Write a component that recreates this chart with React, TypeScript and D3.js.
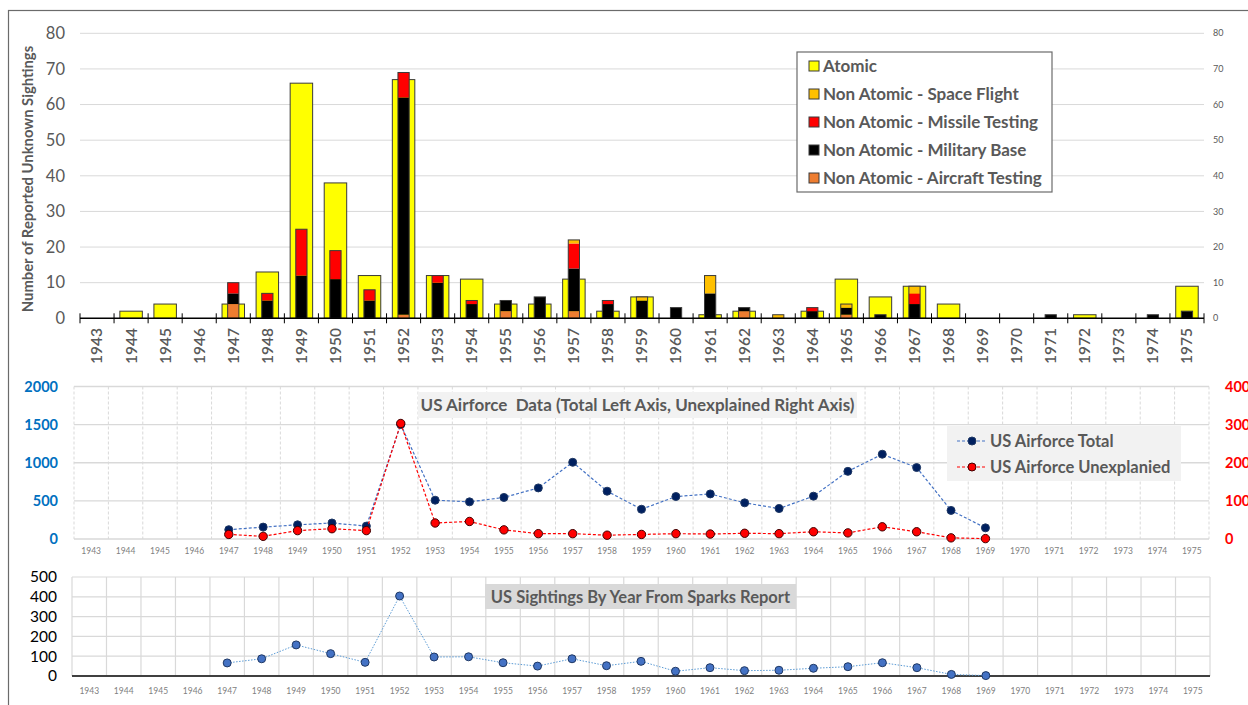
import { useEffect, useRef } from 'react';
import * as d3 from 'd3';

// categories
const years = [
  '1943', '1944', '1945', '1946', '1947', '1948', '1949', '1950', '1951', '1952', '1953',
  '1954', '1955', '1956', '1957', '1958', '1959', '1960', '1961', '1962', '1963', '1964',
  '1965', '1966', '1967', '1968', '1969', '1970', '1971', '1972', '1973', '1974', '1975',
];

// top chart: unknown sightings by type
const atomic = [0, 2, 4, 0, 4, 13, 66, 38, 12, 67, 12, 11, 4, 4, 11, 2, 6, 0, 1, 2, 0, 2, 11, 6, 9, 4, 0, 0, 0, 1, 0, 0, 9];
const aircraftTesting = [0, 0, 0, 0, 4, 0, 0, 0, 0, 1, 0, 0, 2, 0, 2, 0, 0, 0, 0, 2, 0, 0, 1, 0, 0, 0, 0, 0, 0, 0, 0, 0, 0];
const militaryBase = [0, 0, 0, 0, 3, 5, 12, 11, 5, 61, 10, 4, 3, 6, 12, 4, 5, 3, 7, 1, 0, 2, 2, 1, 4, 0, 0, 0, 1, 0, 0, 1, 2];
const missileTesting = [0, 0, 0, 0, 3, 2, 13, 8, 3, 7, 2, 1, 0, 0, 7, 1, 0, 0, 0, 0, 0, 1, 0, 0, 3, 0, 0, 0, 0, 0, 0, 0, 0];
const spaceFlight = [0, 0, 0, 0, 0, 0, 0, 0, 0, 0, 0, 0, 0, 0, 1, 0, 1, 0, 5, 0, 1, 0, 1, 0, 2, 0, 0, 0, 0, 0, 0, 0, 0];

// middle chart: US Airforce
const afTotal = [null, null, null, null, 122, 156, 186, 210, 169, 1501, 509, 487, 545, 670, 1006, 627, 390, 557, 591, 474, 399, 562, 887, 1112, 937, 375, 146, null, null, null, null, null, null];
const afUnexplained = [null, null, null, null, 12, 7, 22, 27, 22, 303, 42, 46, 24, 14, 14, 10, 12, 14, 13, 15, 14, 19, 16, 32, 19, 3, 1, null, null, null, null, null, null];

// bottom chart: Sparks report
const sparks = [null, null, null, null, 66, 87, 157, 113, 69, 404, 96, 97, 67, 50, 87, 52, 74, 24, 42, 27, 29, 39, 47, 67, 42, 8, 2, null, null, null, null, null, null];

const topTicks = [0, 10, 20, 30, 40, 50, 60, 70, 80];
const afLeftTicks = [0, 500, 1000, 1500, 2000];
const afRightTicks = [0, 100, 200, 300, 400];
const sparksTicks = [0, 100, 200, 300, 400, 500];

const stackSeries = [
  { name: 'Non Atomic - Aircraft Testing', values: aircraftTesting, color: '#ED7D31' },
  { name: 'Non Atomic - Military Base', values: militaryBase, color: '#000000' },
  { name: 'Non Atomic - Missile Testing', values: missileTesting, color: '#FF0000' },
  { name: 'Non Atomic - Space Flight', values: spaceFlight, color: '#FFC000' },
];
const legendTop = [
  { name: 'Atomic', color: '#FFFF00' },
  { name: 'Non Atomic - Space Flight', color: '#FFC000' },
  { name: 'Non Atomic - Missile Testing', color: '#FF0000' },
  { name: 'Non Atomic - Military Base', color: '#000000' },
  { name: 'Non Atomic - Aircraft Testing', color: '#ED7D31' },
];

const FONT = "Lato, 'Open Sans', sans-serif";
const GRAY = '#595959';
const GRID = '#D9D9D9';

const App = () => {
  const svgRef = useRef(null);

  useEffect(() => {
    const svg = d3.select(svgRef.current);
    svg.selectAll('*').remove();
    svg.attr('font-family', FONT);

    svg.append('rect')
      .attr('x', 8.5).attr('y', 10.5).attr('width', 1260).attr('height', 720)
      .attr('fill', 'white').attr('stroke', '#6b6b6b').attr('stroke-width', 1.2);

    // ---------- top chart ----------
    const x1 = d3.scaleBand().domain(years).range([80, 1204]);
    const y1 = d3.scaleLinear().domain([0, 80]).range([318.3, 33.3]);
    const top = svg.append('g');

    top.selectAll('.grid').data(topTicks.slice(1)).enter().append('line')
      .attr('x1', 80).attr('x2', 1204)
      .attr('y1', d => y1(d)).attr('y2', d => y1(d))
      .attr('stroke', GRID).attr('stroke-width', 1);

    top.selectAll('.yl').data(topTicks).enter().append('text')
      .attr('x', 65).attr('y', d => y1(d)).attr('dy', '0.35em')
      .attr('text-anchor', 'end').attr('font-size', 16.5).attr('fill', GRAY)
      .text(d => d);

    top.selectAll('.yr').data(topTicks).enter().append('text')
      .attr('x', 1213).attr('y', d => y1(d)).attr('dy', '0.35em')
      .attr('font-size', 9).attr('fill', GRAY)
      .text(d => d);

    top.append('text')
      .attr('transform', 'translate(33,179) rotate(-90)')
      .attr('text-anchor', 'middle').attr('font-size', 14.8).attr('font-weight', 'bold')
      .attr('fill', GRAY)
      .text('Number of Reported Unknown Sightings');

    const bw = x1.bandwidth();
    // atomic (wide)
    top.selectAll('.atomic').data(years.map((yr, i) => ({ yr, v: atomic[i] })).filter(d => d.v > 0))
      .enter().append('rect')
      .attr('x', d => x1(d.yr) + bw * 0.17).attr('width', bw * 0.66)
      .attr('y', d => y1(d.v)).attr('height', d => y1(0) - y1(d.v))
      .attr('fill', '#FFFF00').attr('stroke', '#3a3a3a').attr('stroke-width', 1);

    // non-atomic stack (narrow)
    const nw = bw * 0.33;
    years.forEach((yr, i) => {
      let base = 0;
      stackSeries.forEach(s => {
        const v = s.values[i];
        if (v > 0) {
          top.append('rect')
            .attr('x', x1(yr) + (bw - nw) / 2).attr('width', nw)
            .attr('y', y1(base + v)).attr('height', y1(base) - y1(base + v))
            .attr('fill', s.color);
        }
        base += v;
      });
      if (base > 0) {
        top.append('rect')
          .attr('x', x1(yr) + (bw - nw) / 2).attr('width', nw)
          .attr('y', y1(base)).attr('height', y1(0) - y1(base))
          .attr('fill', 'none').attr('stroke', '#3a3a3a').attr('stroke-width', 1);
      }
    });

    // x axis
    top.append('line').attr('x1', 80).attr('x2', 1204).attr('y1', y1(0)).attr('y2', y1(0))
      .attr('stroke', '#000').attr('stroke-width', 1.5);
    top.selectAll('.tk').data(d3.range(years.length + 1)).enter().append('line')
      .attr('x1', d => 80 + d * bw).attr('x2', d => 80 + d * bw)
      .attr('y1', y1(0) - 5).attr('y2', y1(0) + 5)
      .attr('stroke', '#000').attr('stroke-width', 1);
    top.selectAll('.xl').data(years).enter().append('text')
      .attr('transform', d => `translate(${x1(d) + bw / 2},328) rotate(-90)`)
      .attr('text-anchor', 'end').attr('dy', '0.35em')
      .attr('font-size', 15.5).attr('font-weight', 600).attr('fill', GRAY)
      .text(d => d);

    // legend
    const lg = top.append('g');
    lg.append('rect').attr('x', 797).attr('y', 52).attr('width', 255).attr('height', 140)
      .attr('fill', 'white').attr('stroke', '#6b6b6b').attr('stroke-width', 1.2);
    legendTop.forEach((d, i) => {
      const cy = 66 + i * 28;
      lg.append('rect').attr('x', 809).attr('y', cy - 5).attr('width', 10).attr('height', 10)
        .attr('fill', d.color).attr('stroke', '#3a3a3a').attr('stroke-width', 1);
      lg.append('text').attr('x', 823).attr('y', cy).attr('dy', '0.35em')
        .attr('font-size', 17).attr('font-weight', 'bold').attr('fill', GRAY)
        .text(d.name);
    });

    // ---------- middle chart ----------
    const x2 = d3.scaleBand().domain(years).range([74, 1209]);
    const y2 = d3.scaleLinear().domain([0, 2000]).range([539, 386.5]);
    const y2r = d3.scaleLinear().domain([0, 400]).range([539, 386.5]);
    const mid = svg.append('g');
    const bw2 = x2.bandwidth();

    mid.selectAll('.vg').data(d3.range(years.length + 1)).enter().append('line')
      .attr('x1', d => 74 + d * bw2).attr('x2', d => 74 + d * bw2)
      .attr('y1', 386.5).attr('y2', 539)
      .attr('stroke', GRID).attr('stroke-dasharray', '3,2');
    mid.selectAll('.hg').data(afLeftTicks).enter().append('line')
      .attr('x1', 74).attr('x2', 1209).attr('y1', d => y2(d)).attr('y2', d => y2(d))
      .attr('stroke', GRID).attr('stroke-width', 1.3);

    mid.selectAll('.yl').data(afLeftTicks).enter().append('text')
      .attr('x', 58).attr('y', d => y2(d)).attr('dy', '0.35em').attr('text-anchor', 'end')
      .attr('font-size', 14.5).attr('font-weight', 'bold').attr('fill', '#0070C0')
      .text(d => d);
    mid.selectAll('.yr').data(afRightTicks).enter().append('text')
      .attr('x', 1225).attr('y', d => y2r(d)).attr('dy', '0.35em')
      .attr('font-size', 14.5).attr('font-weight', 'bold').attr('fill', '#FF0000')
      .text(d => d);
    mid.selectAll('.xl').data(years).enter().append('text')
      .attr('x', d => x2(d) + bw2 / 2).attr('y', 551).attr('dy', '0.35em')
      .attr('text-anchor', 'middle').attr('font-size', 8.5).attr('fill', '#808080')
      .text(d => d);

    // title
    mid.append('rect').attr('x', 418).attr('y', 392).attr('width', 439).attr('height', 26)
      .attr('fill', '#F2F2F2');
    mid.append('text').attr('x', 637.5).attr('y', 405).attr('dy', '0.35em')
      .attr('text-anchor', 'middle').attr('font-size', 17).attr('font-weight', 'bold')
      .attr('fill', GRAY).attr('xml:space', 'preserve')
      .text('US Airforce  Data (Total Left Axis, Unexplained Right Axis)');

    const lineFor = (xs, ys) => d3.line()
      .defined(d => d.v != null)
      .x(d => xs(d.yr) + xs.bandwidth() / 2)
      .y(d => ys(d.v));

    const totalPts = years.map((yr, i) => ({ yr, v: afTotal[i] }));
    const unexPts = years.map((yr, i) => ({ yr, v: afUnexplained[i] }));

    mid.append('path').datum(totalPts).attr('d', lineFor(x2, y2))
      .attr('fill', 'none').attr('stroke', '#4472C4').attr('stroke-width', 1.2)
      .attr('stroke-dasharray', '3,2');
    mid.selectAll('.tp').data(totalPts.filter(d => d.v != null)).enter().append('circle')
      .attr('cx', d => x2(d.yr) + bw2 / 2).attr('cy', d => y2(d.v)).attr('r', 4)
      .attr('fill', '#002060').attr('stroke', '#1F3864').attr('stroke-width', 1);

    mid.append('path').datum(unexPts).attr('d', lineFor(x2, y2r))
      .attr('fill', 'none').attr('stroke', '#FF0000').attr('stroke-width', 1.2)
      .attr('stroke-dasharray', '3,2');
    mid.selectAll('.up').data(unexPts.filter(d => d.v != null)).enter().append('circle')
      .attr('cx', d => x2(d.yr) + bw2 / 2).attr('cy', d => y2r(d.v)).attr('r', 4.2)
      .attr('fill', '#FF0000').attr('stroke', '#400000').attr('stroke-width', 1);

    // legend
    mid.append('rect').attr('x', 947).attr('y', 426).attr('width', 234).attr('height', 55)
      .attr('fill', '#F2F2F2');
    [
      { name: 'US Airforce Total', line: '#4472C4', fill: '#002060', stroke: '#1F3864' },
      { name: 'US Airforce Unexplanied', line: '#FF0000', fill: '#FF0000', stroke: '#400000' },
    ].forEach((d, i) => {
      const cy = 441 + i * 26;
      mid.append('line').attr('x1', 957).attr('x2', 987).attr('y1', cy).attr('y2', cy)
        .attr('stroke', d.line).attr('stroke-width', 1.2).attr('stroke-dasharray', '3,2');
      mid.append('circle').attr('cx', 972).attr('cy', cy).attr('r', 4)
        .attr('fill', d.fill).attr('stroke', d.stroke);
      mid.append('text').attr('x', 990).attr('y', cy).attr('dy', '0.35em')
        .attr('font-size', 16.5).attr('fill', GRAY).attr('font-weight', 'bold')
        .text(d.name);
    });

    // ---------- bottom chart ----------
    const x3 = d3.scaleBand().domain(years).range([72, 1210]);
    const y3 = d3.scaleLinear().domain([0, 500]).range([676, 577]);
    const bot = svg.append('g');
    const bw3 = x3.bandwidth();

    bot.selectAll('.vg').data(d3.range(years.length + 1)).enter().append('line')
      .attr('x1', d => 72 + d * bw3).attr('x2', d => 72 + d * bw3)
      .attr('y1', 577).attr('y2', 676)
      .attr('stroke', GRID).attr('stroke-width', 1.2);
    bot.selectAll('.hg').data(sparksTicks.slice(1)).enter().append('line')
      .attr('x1', 72).attr('x2', 1210).attr('y1', d => y3(d)).attr('y2', d => y3(d))
      .attr('stroke', GRID).attr('stroke-width', 1.2);
    bot.append('line').attr('x1', 72).attr('x2', 1210).attr('y1', y3(0)).attr('y2', y3(0))
      .attr('stroke', '#404040').attr('stroke-width', 1.8);

    bot.selectAll('.yl').data(sparksTicks).enter().append('text')
      .attr('x', 57).attr('y', d => y3(d)).attr('dy', '0.35em').attr('text-anchor', 'end')
      .attr('font-size', 15.5).attr('fill', '#000')
      .text(d => d);
    bot.selectAll('.xl').data(years).enter().append('text')
      .attr('x', d => x3(d) + bw3 / 2).attr('y', 691).attr('dy', '0.35em')
      .attr('text-anchor', 'middle').attr('font-size', 8.5).attr('fill', '#808080')
      .text(d => d);

    bot.append('rect').attr('x', 485).attr('y', 584).attr('width', 311).attr('height', 25)
      .attr('fill', '#D9D9D9');
    bot.append('text').attr('x', 640.5).attr('y', 597).attr('dy', '0.35em')
      .attr('text-anchor', 'middle').attr('font-size', 16.5).attr('font-weight', 'bold')
      .attr('fill', GRAY)
      .text('US Sightings By Year From Sparks Report');

    const sparkPts = years.map((yr, i) => ({ yr, v: sparks[i] }));
    bot.append('path').datum(sparkPts).attr('d', lineFor(x3, y3))
      .attr('fill', 'none').attr('stroke', '#5B9BD5').attr('stroke-width', 1)
      .attr('stroke-dasharray', '1.5,1.5');
    bot.selectAll('.sp').data(sparkPts.filter(d => d.v != null)).enter().append('circle')
      .attr('cx', d => x3(d.yr) + bw3 / 2).attr('cy', d => y3(d.v)).attr('r', 4)
      .attr('fill', '#4472C4').attr('stroke', '#1F3864').attr('stroke-width', 1);
  }, []);

  return (
    <div style={{ position: 'absolute', left: 0, top: 0 }}>
      <svg ref={svgRef} width={1248} height={705} style={{ display: 'block' }}></svg>
    </div>
  );
};

export default App;
